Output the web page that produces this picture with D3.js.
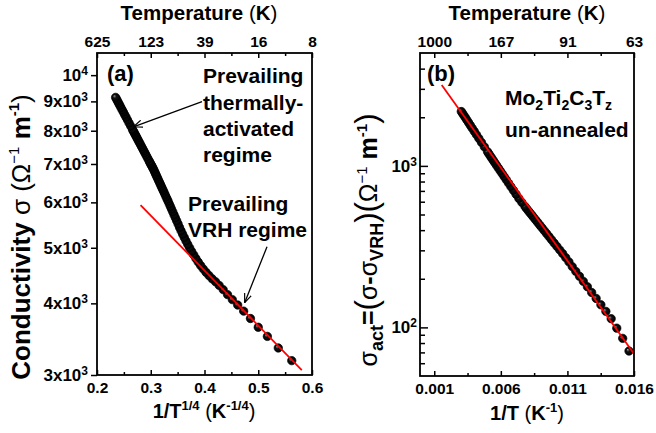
<!DOCTYPE html>
<html>
<head>
<meta charset="utf-8">
<script src="https://cdn.jsdelivr.net/npm/d3@7"></script>
<style>
body { margin: 0; background: #fff; }
text { font-family: "Liberation Sans", Arial, sans-serif; font-weight: bold; fill: #000; }
</style>
</head>
<body>
<svg id="chart" width="656" height="433"></svg>
<script>
// measured temperatures (K)
var temps = [10,12,14,16,18,20,22,24,26,28,
  30,32,34,36,38,40,42,44,46,48,
  50,52,54,56,58,60,62,64,66,68,
  70,72,74,76,78,80,82,84,86,88,
  90,92,94,96,98,100,102,104,106,108,
  110,112,114,116,118,120,122,124,126,128,
  132,136,140,144,148,152,156,160,164,168,
  172,176,180,184,188,192,196,200,210,220,
  230,240,250,260,270,280,290,300,310,320,
  330];

// conductivity sigma (1/(Ohm m)), panel a
var sigma = [3178,3344,3503,3634,3764,3877,3973,4060,4143,4227,
  4299,4362,4416,4474,4531,4594,4657,4723,4790,4859,
  4928,4998,5068,5139,5210,5281,5352,5426,5501,5572,
  5641,5707,5776,5839,5902,5964,6026,6083,6138,6194,
  6247,6300,6351,6402,6452,6502,6548,6599,6643,6689,
  6734,6779,6823,6865,6901,6938,6973,7007,7041,7077,
  7144,7208,7270,7331,7390,7448,7503,7558,7614,7664,
  7718,7765,7816,7863,7908,7957,7999,8046,8152,8252,
  8351,8444,8534,8622,8702,8782,8861,8933,9007,9076,
  9146];

// sigma_act for T >= 64 K, panel b
var actMinT = 64;
var sigmaAct = [71.4,85.5,98.9,
  113.2,125.6,138.0,151.1,164.5,178.4,192.7,207.3,222.3,237.7,
  254.5,270.5,286.7,302.0,317.6,333.4,349.1,365.1,381.1,397.2,
  413.4,429.5,446.0,462.1,478.3,494.8,510.8,527.0,543.5,560.4,
  594.2,628.7,667.1,705.6,743.8,782.1,820.3,858.0,895.8,933.1,
  970.0,1006.9,1043.5,1079.4,1115.5,1151.7,1188.0,1224,1312,1398,
  1480,1561,1639,1713,1786,1857,1924,1991,2053,2115,
  2170];

// red fit lines
var vrhFitX = [0.281, 0.581];
var vrhFitY = [5935, 3060];
var actFitX = [0.00156, 0.016];
var actFitY = [3170, 68.6];

// ticks
var xTicksA = [0.2, 0.3, 0.4, 0.5, 0.6];
var xMinorA = [0.25, 0.35, 0.45, 0.55];
var tempLabelsA = ["625", "123", "39", "16", "8"];
var yTicksA = [3000, 4000, 5000, 6000, 7000, 8000, 9000, 10000];
var xTicksB = [0.001, 0.006, 0.011, 0.016];
var xMinorB = [0.0035, 0.0085, 0.0135];
var tempLabelsB = ["1000", "167", "91", "63"];
var yTicksB = [100, 1000];
var yMinorB = [60, 70, 80, 90, 200, 300, 400, 500, 600, 700, 800, 900, 2000, 3000, 4000];

var svg = d3.select("#chart");

var defs = svg.append("defs");
var grad = defs.append("radialGradient").attr("id", "ball")
  .attr("cx", "50%").attr("cy", "50%").attr("r", "50%").attr("fx", "32%").attr("fy", "32%");
grad.append("stop").attr("offset", "0%").attr("stop-color", "#9a9a9a");
grad.append("stop").attr("offset", "40%").attr("stop-color", "#111");
grad.append("stop").attr("offset", "100%").attr("stop-color", "#000");
defs.append("marker").attr("id", "arr")
  .attr("viewBox", "0 0 10 10").attr("refX", 10).attr("refY", 5)
  .attr("markerWidth", 9).attr("markerHeight", 9).attr("markerUnits", "userSpaceOnUse")
  .attr("orient", "auto")
  .append("path").attr("d", "M0,1 L10,5 L0,9").attr("fill", "none")
  .attr("stroke", "#000").attr("stroke-width", 1.3);

var xa = d3.scaleLinear().domain([0.2, 0.6]).range([97, 312]);
var ya = d3.scaleLog().domain([3000, 10930]).range([375, 53]);
var xb = d3.scaleLinear().domain([-0.00007, 0.016]).range([420, 634]);
var yb = d3.scaleLog().domain([50, 5000]).range([376, 53]);

function styleAxis(g, fs) {
  g.select(".domain").remove();
  g.selectAll(".tick line").attr("stroke", "#000").attr("stroke-width", 1.5);
  g.selectAll(".tick text").attr("font-size", fs + "px")
    .attr("font-family", '"Liberation Sans", Arial, sans-serif').attr("font-weight", "bold");
}

function powLabels(g) {
  g.selectAll(".tick text").each(function (d) {
    var t = d3.select(this);
    var e = Math.round(Math.log10(d) - 0.49);
    var m = Math.round(d / Math.pow(10, e));
    t.text(null);
    t.append("tspan").text(m === 1 ? "10" : m + "x10");
    t.append("tspan").attr("dy", "-0.5em").attr("font-size", "12px").text(e);
  });
}

function rich(sel, parts) {
  parts.forEach(function (p) {
    var ts = sel.append("tspan").text(p.t);
    if (p.s) ts.attr("font-size", p.s + "px");
    if (p.w) ts.attr("font-weight", p.w);
    if (p.dy) ts.attr("dy", p.dy);
  });
}

// ---------- panel a ----------
var ga = svg.append("g");
var axB = ga.append("g").attr("transform", "translate(0,375)")
  .call(d3.axisBottom(xa).tickValues(xTicksA).tickSize(-5).tickPadding(7).tickFormat(d3.format(".1f")));
styleAxis(axB, 15.5);
styleAxis(ga.append("g").attr("transform", "translate(0,375)")
  .call(d3.axisBottom(xa).tickValues(xMinorA).tickSize(-3).tickFormat("")), 15);
var axT = ga.append("g").attr("transform", "translate(0,53)")
  .call(d3.axisTop(xa).tickValues(xTicksA).tickSize(-5).tickPadding(6)
    .tickFormat(function (d, i) { return tempLabelsA[i]; }));
styleAxis(axT, 15.5);
styleAxis(ga.append("g").attr("transform", "translate(0,53)")
  .call(d3.axisTop(xa).tickValues(xMinorA).tickSize(-3).tickFormat("")), 15);
var axL = ga.append("g").attr("transform", "translate(97,0)")
  .call(d3.axisLeft(ya).tickValues(yTicksA).tickSize(6).tickPadding(3));
styleAxis(axL, 17);
powLabels(axL);

ga.append("g").selectAll("circle")
  .data(temps.map(function (t, i) { return { x: Math.pow(t, -0.25), y: sigma[i] }; }))
  .join("circle")
  .attr("cx", function (d) { return xa(d.x); })
  .attr("cy", function (d) { return ya(d.y); })
  .attr("r", 4.2)
  .attr("fill", "url(#ball)").attr("stroke", "#000").attr("stroke-width", 0.7);

ga.append("path")
  .datum(vrhFitX.map(function (v, i) { return [v, vrhFitY[i]]; }))
  .attr("d", d3.line().x(function (d) { return xa(d[0]); }).y(function (d) { return ya(d[1]); }))
  .attr("stroke", "#ff0000").attr("stroke-width", 1.8).attr("fill", "none");

ga.append("rect").attr("x", 97).attr("y", 53).attr("width", 215).attr("height", 322)
  .attr("fill", "none").attr("stroke", "#000").attr("stroke-width", 1.8);

ga.append("text").attr("x", 107).attr("y", 81).attr("font-size", "22px").text("(a)");
[["Prevailing", 83], ["thermally-", 109.5], ["activated", 136], ["regime", 162]].forEach(function (r) {
  ga.append("text").attr("x", 203).attr("y", r[1]).attr("font-size", "21px").text(r[0]);
});
[["Prevailing", 211], ["VRH regime", 237]].forEach(function (r) {
  ga.append("text").attr("x", 188).attr("y", r[1]).attr("font-size", "21px").text(r[0]);
});
ga.append("line")
  .attr("x1", xa(0.3953)).attr("y1", ya(8988)).attr("x2", xa(0.2678)).attr("y2", ya(8128))
  .attr("stroke", "#000").attr("stroke-width", 1.3).attr("marker-end", "url(#arr)");
ga.append("line")
  .attr("x1", xa(0.5163)).attr("y1", ya(5021)).attr("x2", xa(0.4747)).attr("y2", ya(4010))
  .attr("stroke", "#000").attr("stroke-width", 1.3).attr("marker-end", "url(#arr)");

var tA = ga.append("text").attr("x", 199).attr("y", 19.5).attr("font-size", "20.5px").attr("text-anchor", "middle");
rich(tA, [{ t: "Temperature " }, { t: "(", w: "normal" }, { t: "K" }, { t: ")", w: "normal" }]);
var bA = ga.append("text").attr("x", 204).attr("y", 418).attr("font-size", "20px").attr("text-anchor", "middle");
rich(bA, [{ t: "1/T" }, { t: "1/4", s: 13, dy: "-8" }, { t: " ", dy: "8" }, { t: "(", w: "normal" }, { t: "K" },
  { t: "-1/4", s: 13, dy: "-8" }, { t: ")", w: "normal", dy: "8" }]);
var lA = ga.append("text").attr("transform", "translate(29.5,237) rotate(-90)")
  .attr("font-size", "26px").attr("text-anchor", "middle");
rich(lA, [{ t: "Conductivity " }, { t: "σ", w: "normal" }, { t: " " }, { t: "(", w: "normal" }, { t: "Ω", w: "normal" },
  { t: "−1", s: 15, dy: "-11", w: "normal" }, { t: " m", dy: "11" }, { t: "-1", s: 15, dy: "-11" }, { t: ")", w: "normal", dy: "11" }]);

// ---------- panel b ----------
var gb = svg.append("g");
var bxB = gb.append("g").attr("transform", "translate(0,376)")
  .call(d3.axisBottom(xb).tickValues(xTicksB).tickSize(-5).tickPadding(7).tickFormat(d3.format(".3f")));
styleAxis(bxB, 15.5);
styleAxis(gb.append("g").attr("transform", "translate(0,376)")
  .call(d3.axisBottom(xb).tickValues(xMinorB).tickSize(-3).tickFormat("")), 15);
var bxT = gb.append("g").attr("transform", "translate(0,53)")
  .call(d3.axisTop(xb).tickValues(xTicksB).tickSize(-5).tickPadding(6)
    .tickFormat(function (d, i) { return tempLabelsB[i]; }));
styleAxis(bxT, 15.5);
styleAxis(gb.append("g").attr("transform", "translate(0,53)")
  .call(d3.axisTop(xb).tickValues(xMinorB).tickSize(-3).tickFormat("")), 15);
var byL = gb.append("g").attr("transform", "translate(420,0)")
  .call(d3.axisLeft(yb).tickValues(yTicksB).tickSize(-8).tickPadding(3));
styleAxis(byL, 17);
powLabels(byL);
styleAxis(gb.append("g").attr("transform", "translate(420,0)")
  .call(d3.axisLeft(yb).tickValues(yMinorB).tickSize(-5).tickFormat("")), 15);

var actTemps = temps.filter(function (t) { return t >= actMinT; });
gb.append("g").selectAll("circle")
  .data(actTemps.map(function (t, i) { return { x: 1 / t, y: sigmaAct[i] }; }))
  .join("circle")
  .attr("cx", function (d) { return xb(d.x); })
  .attr("cy", function (d) { return yb(d.y); })
  .attr("r", 4.2)
  .attr("fill", "url(#ball)").attr("stroke", "#000").attr("stroke-width", 0.7);

gb.append("path")
  .datum(actFitX.map(function (v, i) { return [v, actFitY[i]]; }))
  .attr("d", d3.line().x(function (d) { return xb(d[0]); }).y(function (d) { return yb(d[1]); }))
  .attr("stroke", "#ff0000").attr("stroke-width", 1.8).attr("fill", "none");

gb.append("rect").attr("x", 420).attr("y", 53).attr("width", 214).attr("height", 323)
  .attr("fill", "none").attr("stroke", "#000").attr("stroke-width", 1.8);

gb.append("text").attr("x", 427).attr("y", 81).attr("font-size", "22px").text("(b)");
var mo = gb.append("text").attr("x", 505).attr("y", 105).attr("font-size", "21px");
rich(mo, [{ t: "Mo" }, { t: "2", s: 14, dy: "5" }, { t: "Ti", dy: "-5" }, { t: "2", s: 14, dy: "5" }, { t: "C", dy: "-5" },
  { t: "3", s: 14, dy: "5" }, { t: "T", dy: "-5" }, { t: "z", s: 14, dy: "5" }]);
gb.append("text").attr("x", 505).attr("y", 137).attr("font-size", "21px").text("un-annealed");

var tB = gb.append("text").attr("x", 527).attr("y", 19.5).attr("font-size", "20.5px").attr("text-anchor", "middle");
rich(tB, [{ t: "Temperature " }, { t: "(", w: "normal" }, { t: "K" }, { t: ")", w: "normal" }]);
var bB = gb.append("text").attr("x", 527).attr("y", 420).attr("font-size", "20px").attr("text-anchor", "middle");
rich(bB, [{ t: "1/T " }, { t: "(", w: "normal" }, { t: "K" }, { t: "-1", s: 13, dy: "-8" }, { t: ")", w: "normal", dy: "8" }]);
var lB = gb.append("text").attr("transform", "translate(377,240) rotate(-90)")
  .attr("font-size", "25px").attr("text-anchor", "middle");
rich(lB, [{ t: "σ", w: "normal" }, { t: "act", s: 18, dy: "6" }, { t: "=", dy: "-6" }, { t: "(", w: "normal", s: 31 },
  { t: "σ", w: "normal" }, { t: "-" }, { t: "σ", w: "normal" }, { t: "VRH", s: 18, dy: "6" }, { t: ")", w: "normal", s: 31, dy: "-6" },
  { t: "(", w: "normal", s: 31 }, { t: "Ω", w: "normal" }, { t: "−1", s: 15, dy: "-10", w: "normal" }, { t: " m", dy: "10" },
  { t: "-1", s: 15, dy: "-10" }, { t: ")", w: "normal", s: 31, dy: "10" }]);
</script>
</body>
</html>
